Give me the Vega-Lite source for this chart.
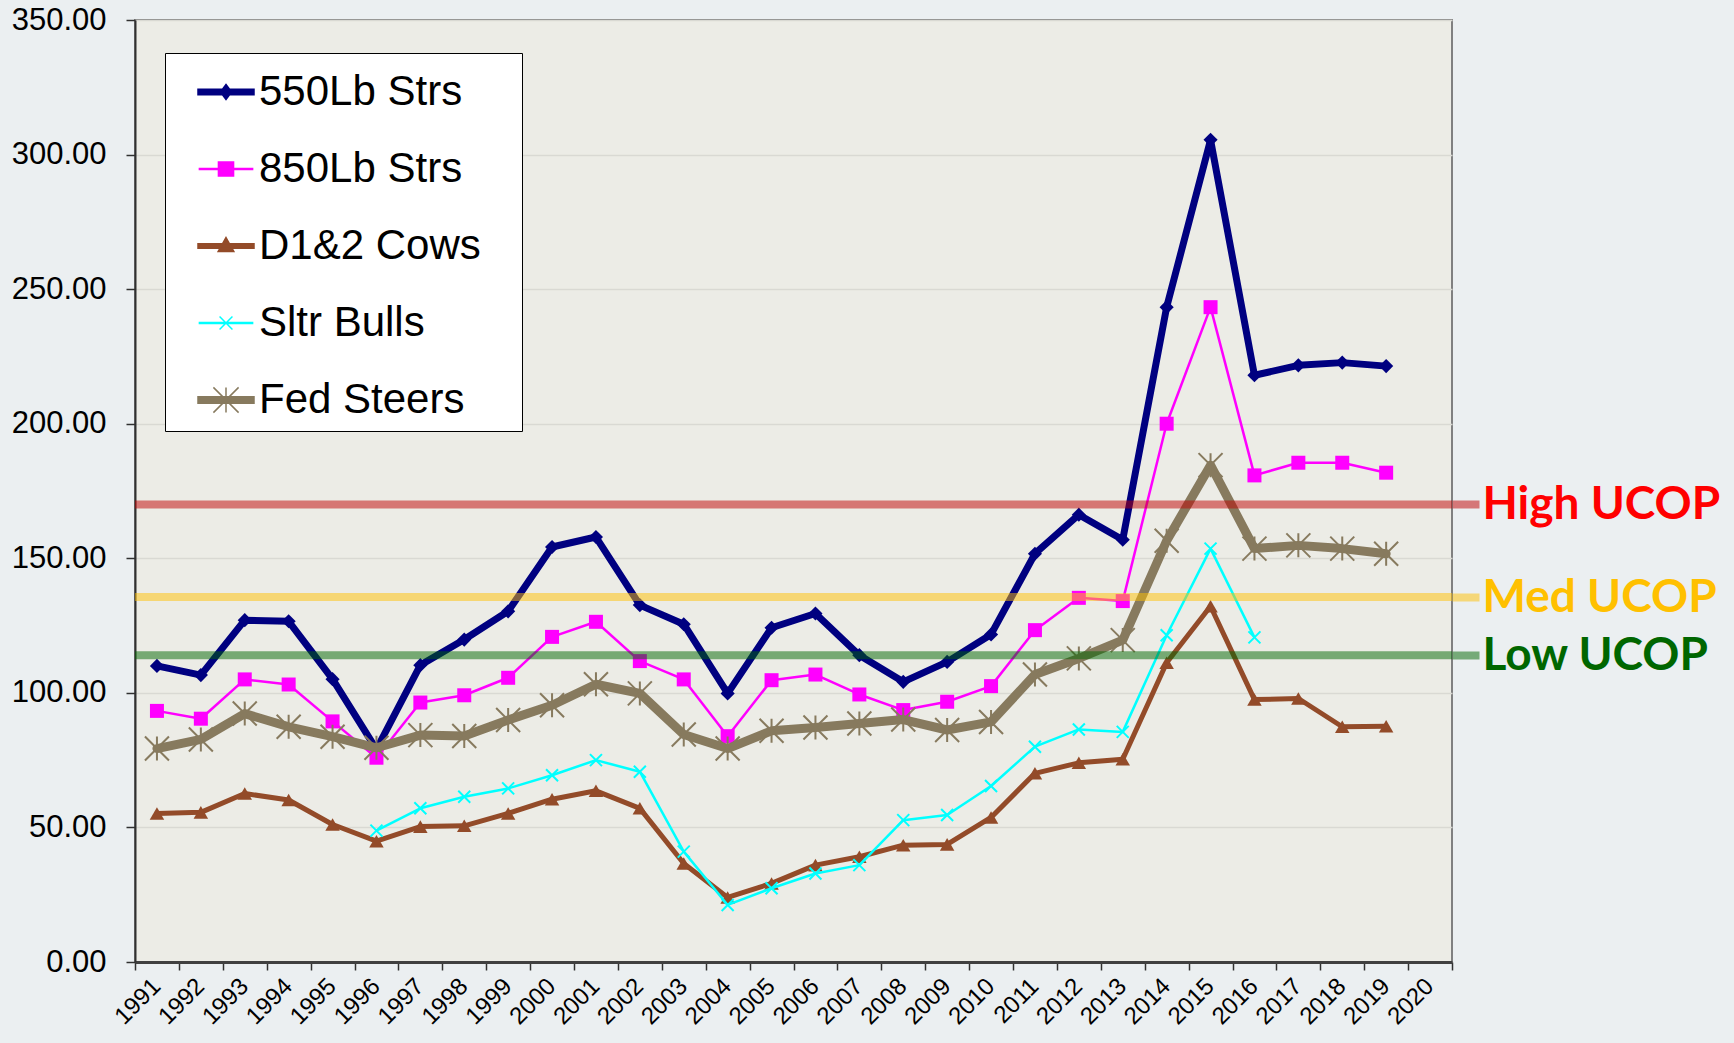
{
  "$schema": "https://vega.github.io/schema/vega-lite/v6.json",
  "width": 1734,
  "height": 1043,
  "autosize": {"type": "fit", "contains": "padding"},
  "padding": {"left": 11, "top": 4, "right": 14, "bottom": 14},
  "background": "#EBEFF1",
  "config": {
    "view": {"fill": "#ECECE6", "stroke": "#808080", "strokeWidth": 2},
    "font": "Liberation Sans"
  },
  "data": {
    "values": [
      {"year": 1991, "series": "550Lb Strs", "price": 110.0},
      {"year": 1992, "series": "550Lb Strs", "price": 106.6},
      {"year": 1993, "series": "550Lb Strs", "price": 127.0},
      {"year": 1994, "series": "550Lb Strs", "price": 126.6},
      {"year": 1995, "series": "550Lb Strs", "price": 105.1},
      {"year": 1996, "series": "550Lb Strs", "price": 79.0},
      {"year": 1997, "series": "550Lb Strs", "price": 110.3},
      {"year": 1998, "series": "550Lb Strs", "price": 119.8},
      {"year": 1999, "series": "550Lb Strs", "price": 130.3},
      {"year": 2000, "series": "550Lb Strs", "price": 154.2},
      {"year": 2001, "series": "550Lb Strs", "price": 157.9},
      {"year": 2002, "series": "550Lb Strs", "price": 132.6},
      {"year": 2003, "series": "550Lb Strs", "price": 125.5},
      {"year": 2004, "series": "550Lb Strs", "price": 99.8},
      {"year": 2005, "series": "550Lb Strs", "price": 124.2},
      {"year": 2006, "series": "550Lb Strs", "price": 129.5},
      {"year": 2007, "series": "550Lb Strs", "price": 114.0},
      {"year": 2008, "series": "550Lb Strs", "price": 104.1},
      {"year": 2009, "series": "550Lb Strs", "price": 111.5},
      {"year": 2010, "series": "550Lb Strs", "price": 121.7},
      {"year": 2011, "series": "550Lb Strs", "price": 151.7},
      {"year": 2012, "series": "550Lb Strs", "price": 166.2},
      {"year": 2013, "series": "550Lb Strs", "price": 156.9},
      {"year": 2014, "series": "550Lb Strs", "price": 243.3},
      {"year": 2015, "series": "550Lb Strs", "price": 305.5},
      {"year": 2016, "series": "550Lb Strs", "price": 218.0},
      {"year": 2017, "series": "550Lb Strs", "price": 221.7},
      {"year": 2018, "series": "550Lb Strs", "price": 222.7},
      {"year": 2019, "series": "550Lb Strs", "price": 221.4},
      {"year": 1991, "series": "850Lb Strs", "price": 93.3},
      {"year": 1992, "series": "850Lb Strs", "price": 90.4},
      {"year": 1993, "series": "850Lb Strs", "price": 105.0},
      {"year": 1994, "series": "850Lb Strs", "price": 103.1},
      {"year": 1995, "series": "850Lb Strs", "price": 89.4},
      {"year": 1996, "series": "850Lb Strs", "price": 75.9},
      {"year": 1997, "series": "850Lb Strs", "price": 96.4},
      {"year": 1998, "series": "850Lb Strs", "price": 99.1},
      {"year": 1999, "series": "850Lb Strs", "price": 105.6},
      {"year": 2000, "series": "850Lb Strs", "price": 120.8},
      {"year": 2001, "series": "850Lb Strs", "price": 126.4},
      {"year": 2002, "series": "850Lb Strs", "price": 111.8},
      {"year": 2003, "series": "850Lb Strs", "price": 105.0},
      {"year": 2004, "series": "850Lb Strs", "price": 83.9},
      {"year": 2005, "series": "850Lb Strs", "price": 104.7},
      {"year": 2006, "series": "850Lb Strs", "price": 106.8},
      {"year": 2007, "series": "850Lb Strs", "price": 99.4},
      {"year": 2008, "series": "850Lb Strs", "price": 93.6},
      {"year": 2009, "series": "850Lb Strs", "price": 96.7},
      {"year": 2010, "series": "850Lb Strs", "price": 102.5},
      {"year": 2011, "series": "850Lb Strs", "price": 123.3},
      {"year": 2012, "series": "850Lb Strs", "price": 135.3},
      {"year": 2013, "series": "850Lb Strs", "price": 134.1},
      {"year": 2014, "series": "850Lb Strs", "price": 200.0},
      {"year": 2015, "series": "850Lb Strs", "price": 243.3},
      {"year": 2016, "series": "850Lb Strs", "price": 180.8},
      {"year": 2017, "series": "850Lb Strs", "price": 185.5},
      {"year": 2018, "series": "850Lb Strs", "price": 185.5},
      {"year": 2019, "series": "850Lb Strs", "price": 181.8},
      {"year": 1991, "series": "D1&2 Cows", "price": 55.2},
      {"year": 1992, "series": "D1&2 Cows", "price": 55.6},
      {"year": 1993, "series": "D1&2 Cows", "price": 62.6},
      {"year": 1994, "series": "D1&2 Cows", "price": 60.2},
      {"year": 1995, "series": "D1&2 Cows", "price": 51.1},
      {"year": 1996, "series": "D1&2 Cows", "price": 44.9},
      {"year": 1997, "series": "D1&2 Cows", "price": 50.3},
      {"year": 1998, "series": "D1&2 Cows", "price": 50.6},
      {"year": 1999, "series": "D1&2 Cows", "price": 55.2},
      {"year": 2000, "series": "D1&2 Cows", "price": 60.5},
      {"year": 2001, "series": "D1&2 Cows", "price": 63.6},
      {"year": 2002, "series": "D1&2 Cows", "price": 57.1},
      {"year": 2003, "series": "D1&2 Cows", "price": 36.6},
      {"year": 2004, "series": "D1&2 Cows", "price": 24.0},
      {"year": 2005, "series": "D1&2 Cows", "price": 29.2},
      {"year": 2006, "series": "D1&2 Cows", "price": 36.0},
      {"year": 2007, "series": "D1&2 Cows", "price": 39.1},
      {"year": 2008, "series": "D1&2 Cows", "price": 43.4},
      {"year": 2009, "series": "D1&2 Cows", "price": 43.7},
      {"year": 2010, "series": "D1&2 Cows", "price": 53.7},
      {"year": 2011, "series": "D1&2 Cows", "price": 70.1},
      {"year": 2012, "series": "D1&2 Cows", "price": 74.0},
      {"year": 2013, "series": "D1&2 Cows", "price": 75.3},
      {"year": 2014, "series": "D1&2 Cows", "price": 111.2},
      {"year": 2015, "series": "D1&2 Cows", "price": 132.2},
      {"year": 2016, "series": "D1&2 Cows", "price": 97.5},
      {"year": 2017, "series": "D1&2 Cows", "price": 97.9},
      {"year": 2018, "series": "D1&2 Cows", "price": 87.4},
      {"year": 2019, "series": "D1&2 Cows", "price": 87.6},
      {"year": 1996, "series": "Sltr Bulls", "price": 48.8},
      {"year": 1997, "series": "Sltr Bulls", "price": 57.1},
      {"year": 1998, "series": "Sltr Bulls", "price": 61.4},
      {"year": 1999, "series": "Sltr Bulls", "price": 64.5},
      {"year": 2000, "series": "Sltr Bulls", "price": 69.4},
      {"year": 2001, "series": "Sltr Bulls", "price": 75.0},
      {"year": 2002, "series": "Sltr Bulls", "price": 70.7},
      {"year": 2003, "series": "Sltr Bulls", "price": 41.0},
      {"year": 2004, "series": "Sltr Bulls", "price": 21.2},
      {"year": 2005, "series": "Sltr Bulls", "price": 27.4},
      {"year": 2006, "series": "Sltr Bulls", "price": 32.9},
      {"year": 2007, "series": "Sltr Bulls", "price": 36.0},
      {"year": 2008, "series": "Sltr Bulls", "price": 52.7},
      {"year": 2009, "series": "Sltr Bulls", "price": 54.6},
      {"year": 2010, "series": "Sltr Bulls", "price": 65.4},
      {"year": 2011, "series": "Sltr Bulls", "price": 80.0},
      {"year": 2012, "series": "Sltr Bulls", "price": 86.4},
      {"year": 2013, "series": "Sltr Bulls", "price": 85.5},
      {"year": 2014, "series": "Sltr Bulls", "price": 121.4},
      {"year": 2015, "series": "Sltr Bulls", "price": 153.6},
      {"year": 2016, "series": "Sltr Bulls", "price": 120.6},
      {"year": 1991, "series": "Fed Steers", "price": 79.3},
      {"year": 1992, "series": "Fed Steers", "price": 82.7},
      {"year": 1993, "series": "Fed Steers", "price": 92.3},
      {"year": 1994, "series": "Fed Steers", "price": 87.4},
      {"year": 1995, "series": "Fed Steers", "price": 83.7},
      {"year": 1996, "series": "Fed Steers", "price": 79.6},
      {"year": 1997, "series": "Fed Steers", "price": 84.3},
      {"year": 1998, "series": "Fed Steers", "price": 84.0},
      {"year": 1999, "series": "Fed Steers", "price": 89.9},
      {"year": 2000, "series": "Fed Steers", "price": 95.4},
      {"year": 2001, "series": "Fed Steers", "price": 103.2},
      {"year": 2002, "series": "Fed Steers", "price": 99.8},
      {"year": 2003, "series": "Fed Steers", "price": 84.5},
      {"year": 2004, "series": "Fed Steers", "price": 79.3},
      {"year": 2005, "series": "Fed Steers", "price": 85.9},
      {"year": 2006, "series": "Fed Steers", "price": 87.1},
      {"year": 2007, "series": "Fed Steers", "price": 88.6},
      {"year": 2008, "series": "Fed Steers", "price": 90.1},
      {"year": 2009, "series": "Fed Steers", "price": 86.2},
      {"year": 2010, "series": "Fed Steers", "price": 89.2},
      {"year": 2011, "series": "Fed Steers", "price": 106.8},
      {"year": 2012, "series": "Fed Steers", "price": 112.8},
      {"year": 2013, "series": "Fed Steers", "price": 119.6},
      {"year": 2014, "series": "Fed Steers", "price": 156.5},
      {"year": 2015, "series": "Fed Steers", "price": 184.6},
      {"year": 2016, "series": "Fed Steers", "price": 153.6},
      {"year": 2017, "series": "Fed Steers", "price": 154.8},
      {"year": 2018, "series": "Fed Steers", "price": 153.6},
      {"year": 2019, "series": "Fed Steers", "price": 151.7}
    ]
  },
  "layer": [
    {
      "encoding": {
        "x": {
          "field": "year", "type": "ordinal",
          "scale": {"type": "band", "paddingInner": 0, "paddingOuter": 0,
            "domain": [1991,1992,1993,1994,1995,1996,1997,1998,1999,2000,2001,2002,2003,2004,2005,2006,2007,2008,2009,2010,2011,2012,2013,2014,2015,2016,2017,2018,2019,2020]},
          "axis": {"title": null, "tickBand": "extent", "labelAngle": -45, "labelFontSize": 24, "labelColor": "black",
            "tickSize": 8, "tickColor": "#303030", "tickWidth": 1.5, "domainColor": "#404040", "domainWidth": 3,
            "grid": false, "labelPadding": 4, "labelOffset": -9}
        },
        "y": {
          "field": "price", "type": "quantitative",
          "scale": {"domain": [0, 350], "nice": false},
          "axis": {"title": null, "values": [0,50,100,150,200,250,300,350], "format": ".2f", "labelFontSize": 31,
            "labelColor": "black", "tickSize": 9, "tickColor": "#303030", "tickWidth": 1.5, "domainColor": "#303030",
            "domainWidth": 2, "labelPadding": 20, "grid": true, "gridColor": "#D9D9D3", "gridWidth": 1.5}
        },
        "color": {
          "field": "series", "type": "nominal",
          "scale": {"domain": ["550Lb Strs","850Lb Strs","D1&2 Cows","Sltr Bulls","Fed Steers"],
            "range": ["#000080","#FF00FF","#934B29","#00FFFF","#877A5E"]},
          "legend": {
            "orient": "none", "legendX": 30, "legendY": 33, "title": null,
            "fillColor": "white", "strokeColor": "black", "padding": 10,
            "symbolSize": 3136, "symbolStrokeWidth": 1.5, "symbolOffset": 22, "labelOffset": 4,
            "labelFontSize": 42, "labelFont": "Liberation Sans", "labelColor": "black", "labelLimit": 500,
            "rowPadding": 27,
            "encode": {
              "symbols": {
                "update": {
                  "shape": {"signal": "datum.value === '550Lb Strs' ? 'M-1,-0.1H1V0.1H-1ZM0,-0.27L0.2,0L0,0.27L-0.2,0ZM10.1,0' : datum.value === '850Lb Strs' ? 'M-0.95,-0.02H0.95V0.02H-0.95ZM-0.27,-0.25H0.27V0.25H-0.27ZM10.1,0' : datum.value === 'D1&2 Cows' ? 'M-1,-0.08H1V0.08H-1ZM0,-0.3L0.28,0.2L-0.28,0.2ZM10.1,0' : datum.value === 'Sltr Bulls' ? 'M-0.95,-0.02H0.95V0.02H-0.95ZM-0.23,-0.23L0.23,0.23M-0.23,0.23L0.23,-0.23M10.1,0' : 'M-1,-0.12H1V0.12H-1ZM-0.45,-0.45L0.45,0.45M-0.45,0.45L0.45,-0.45M0,-0.45V0.45M10.1,0'"},
                  "fill": {"scale": "color", "field": "value"},
                  "stroke": {"scale": "color", "field": "value"},
                  "strokeWidth": {"value": 1.5},
                  "opacity": {"value": 1},
                  "size": {"value": 3136}
                }
              }
            }
          }
        }
      },
      "layer": [
        {
          "transform": [{"filter": {"field": "series", "equal": "550Lb Strs"}}],
          "layer": [
            {"mark": {"type": "line", "strokeWidth": 7, "strokeJoin": "round", "strokeCap": "round"}},
            {"mark": {"type": "point", "shape": "diamond", "size": 200, "filled": true, "opacity": 1}}
          ]
        },
        {
          "transform": [{"filter": {"field": "series", "equal": "850Lb Strs"}}],
          "layer": [
            {"mark": {"type": "line", "strokeWidth": 2.5, "strokeJoin": "round"}},
            {"mark": {"type": "point", "shape": "square", "size": 196, "filled": true, "opacity": 1}}
          ]
        },
        {
          "transform": [{"filter": {"field": "series", "equal": "D1&2 Cows"}}],
          "layer": [
            {"mark": {"type": "line", "strokeWidth": 5, "strokeJoin": "round", "strokeCap": "round"}},
            {"mark": {"type": "point", "shape": "triangle-up", "size": 210, "filled": true, "opacity": 1}}
          ]
        },
        {
          "transform": [{"filter": {"field": "series", "equal": "Sltr Bulls"}}],
          "layer": [
            {"mark": {"type": "line", "strokeWidth": 2.5, "strokeJoin": "round"}},
            {"mark": {"type": "point", "shape": "M-1,-1L1,1M-1,1L1,-1", "size": 144, "filled": false, "strokeWidth": 2, "opacity": 1}}
          ]
        },
        {
          "transform": [{"filter": {"field": "series", "equal": "Fed Steers"}}],
          "layer": [
            {"mark": {"type": "line", "strokeWidth": 9, "strokeJoin": "round", "strokeCap": "round"}},
            {"mark": {"type": "point", "shape": "M-1,-1L1,1M-1,1L1,-1M0,-1L0,1", "size": 576, "filled": false, "strokeWidth": 2, "opacity": 1}}
          ]
        }
      ]
    },
    {
      "data": {"values": [
        {"level": "High UCOP", "value": 170},
        {"level": "Med UCOP", "value": 135.6},
        {"level": "Low UCOP", "value": 114}
      ]},
      "mark": {"type": "rule", "strokeWidth": 8, "opacity": 0.5},
      "encoding": {
        "y": {"field": "value", "type": "quantitative",
          "axis": {"orient": "right", "title": null, "values": [114, 135.6, 170], "domain": false, "grid": false,
            "labelExpr": "datum.value == 170 ? 'High UCOP' : datum.value > 130 ? 'Med UCOP' : 'Low UCOP'",
            "labelFont": "Lato", "labelFontWeight": "bold", "labelFontSize": 46, "labelPadding": 3, "labelOverlap": false,
            "labelLimit": 500, "labelBaseline": "middle", "tickSize": 27, "tickWidth": 8, "tickOpacity": 0.5,
            "labelColor": {"condition": [{"test": "datum.value == 170", "value": "#FF0000"}, {"test": "datum.value > 130", "value": "#FFC000"}], "value": "#006600"},
            "tickColor": {"condition": [{"test": "datum.value == 170", "value": "#C00000"}, {"test": "datum.value > 130", "value": "#FFC000"}], "value": "#006600"}
          }
        },
        "color": {
          "condition": [
            {"test": "datum.level === 'High UCOP'", "value": "#C00000"},
            {"test": "datum.level === 'Med UCOP'", "value": "#FFC000"}
          ],
          "value": "#006600"
        }
      }
    }
  ],
  "resolve": {"axis": {"y": "independent"}}
}
